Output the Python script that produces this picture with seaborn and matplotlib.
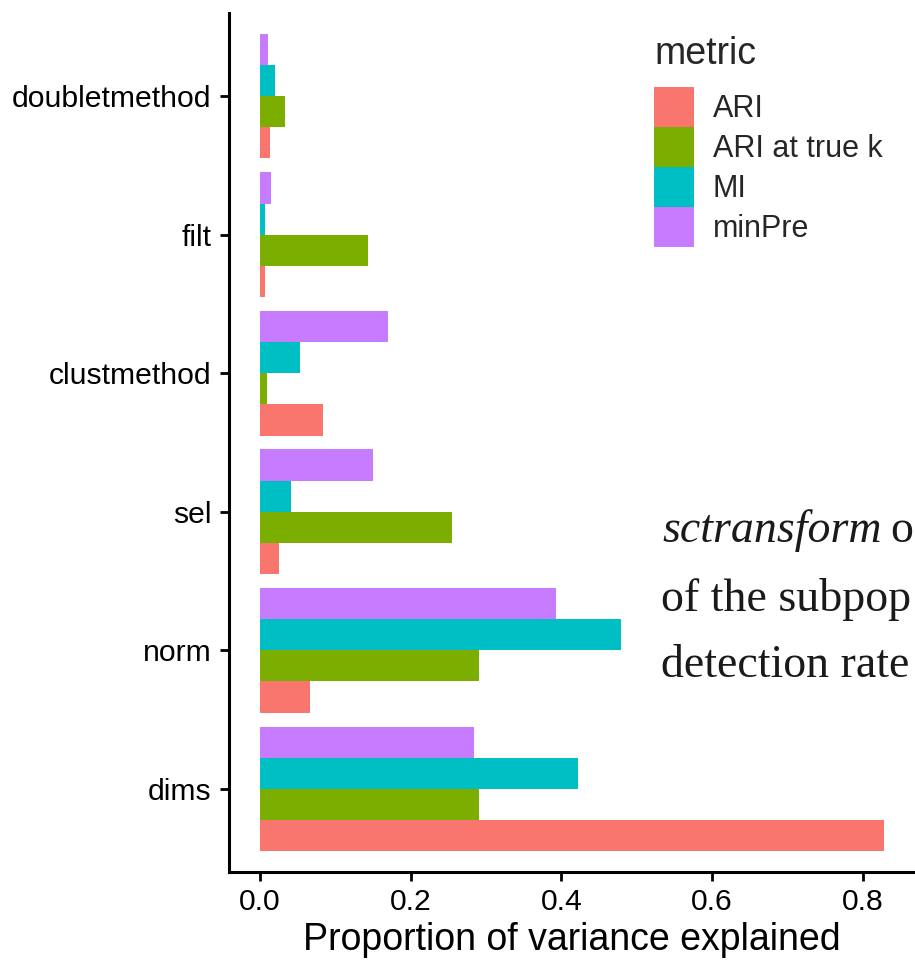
import matplotlib
matplotlib.use("Agg")
import matplotlib.pyplot as plt
import seaborn as sns
import pandas as pd
from matplotlib.patches import Patch

# ---- data ----
factors = ["doubletmethod", "filt", "clustmethod", "sel", "norm", "dims"]
metrics = ["ARI", "ARI at true k", "MI", "minPre"]
ari = [0.013, 0.007, 0.083, 0.025, 0.066, 0.828]
ari_true_k = [0.033, 0.143, 0.009, 0.255, 0.291, 0.291]
mi = [0.020, 0.006, 0.053, 0.041, 0.479, 0.422]
minpre = [0.010, 0.015, 0.170, 0.150, 0.393, 0.284]
x_ticks = [0.0, 0.2, 0.4, 0.6, 0.8]
x_tick_labels = ["0.0", "0.2", "0.4", "0.6", "0.8"]

colors = {"ARI": "#F8766D", "ARI at true k": "#7CAE00", "MI": "#00BFC4", "minPre": "#C77CFF"}

rows = []
for m, vals in zip(metrics, [ari, ari_true_k, mi, minpre]):
    for f, v in zip(factors, vals):
        rows.append({"factor": f, "metric": m, "value": v})
df = pd.DataFrame(rows)

sns.set_theme(style="white")
plt.rcParams["font.family"] = ["Liberation Sans", "DejaVu Sans"]

fig = plt.figure(figsize=(9.15, 9.66), dpi=100)
ax = fig.add_axes([229 / 915, 1 - 872 / 966, 1 - 229 / 915, (872 - 13) / 966])

sns.barplot(data=df, x="value", y="factor", hue="metric", order=factors,
            hue_order=metrics[::-1], palette=colors, width=0.9, orient="h",
            saturation=1, linewidth=0, errorbar=None, legend=False, ax=ax)

ax.set_xlim(-0.0414, 0.8694)
ax.set_ylim(5.6, -0.6)
ax.set_xticks(x_ticks)
ax.set_xticklabels(x_tick_labels)
ax.set_ylabel("")
ax.set_xlabel("Proportion of variance explained", fontsize=27, labelpad=4, color="black")

for s in ["top", "right"]:
    ax.spines[s].set_visible(False)
for s in ["left", "bottom"]:
    ax.spines[s].set_linewidth(2.2)
    ax.spines[s].set_color("black")
ax.tick_params(axis="both", which="major", length=6.5, width=2.0, color="black",
               labelsize=21.7, labelcolor="black", pad=5, left=True, bottom=True)
ax.tick_params(axis="y", pad=6)

handles = [Patch(facecolor=colors[m], edgecolor="none", label=m) for m in metrics]
leg = ax.legend(handles=handles, title="metric", loc="upper left",
                bbox_to_anchor=(654 / 915, 1 - 36 / 966), bbox_transform=fig.transFigure,
                frameon=False, fontsize=22, title_fontsize=27, handlelength=1.31,
                handleheight=1.634, handletextpad=0.62, labelspacing=0.0,
                borderpad=0, borderaxespad=0, alignment="left")
leg._legend_box.sep = 11

# overlaid document text
serif = ["Liberation Serif", "DejaVu Serif"]
tc = "#1a1a1a"
fs = 33
fig.canvas.draw()
t1 = fig.text(662 / 915, 1 - 542 / 966, "sctransform", fontsize=fs, family=serif,
              style="italic", va="baseline", ha="left", color=tc)
fig.canvas.draw()
bb = t1.get_window_extent()
fig.text((bb.x1 + 9) / 915, 1 - 542 / 966, "o", fontsize=fs, family=serif,
         va="baseline", ha="left", color=tc)
fig.text(661 / 915, 1 - 611 / 966, "of the subpop", fontsize=fs, family=serif,
         va="baseline", ha="left", color=tc)
fig.text(661 / 915, 1 - 677 / 966, "detection rate", fontsize=fs, family=serif,
         va="baseline", ha="left", color=tc)

fig.savefig("out.png", dpi=100)
